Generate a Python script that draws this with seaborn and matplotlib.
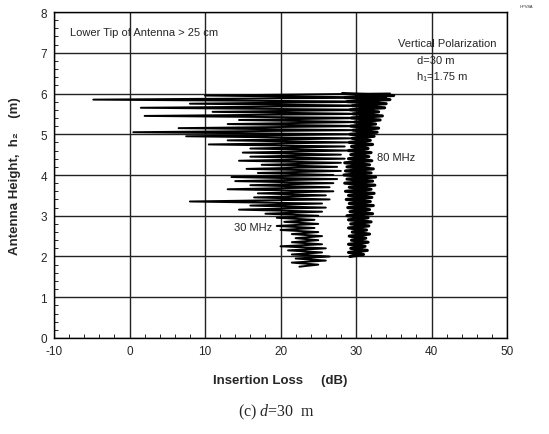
import matplotlib
matplotlib.use("Agg")
import matplotlib.pyplot as plt
import numpy as np
import pandas as pd
import seaborn as sns
from matplotlib.ticker import MultipleLocator

# heights (m) of the turning points of each trace
h_30 = [1.75, 1.80, 1.85, 1.90, 1.95, 2.00, 2.05, 2.10, 2.15, 2.20,
        2.25, 2.30, 2.35, 2.40, 2.45, 2.50, 2.55, 2.60, 2.65, 2.70,
        2.75, 2.80, 2.85, 2.90, 2.95, 3.00, 3.05, 3.10, 3.15, 3.20,
        3.25, 3.30, 3.35, 3.40, 3.45, 3.50, 3.55, 3.60, 3.65, 3.70,
        3.75, 3.80, 3.85, 3.90, 3.95, 4.00, 4.05, 4.10, 4.15, 4.20,
        4.25, 4.30, 4.35, 4.40, 4.45, 4.50, 4.55, 4.60, 4.65, 4.70,
        4.75, 4.80, 4.85, 4.90, 4.95, 5.00, 5.05, 5.10, 5.15, 5.20,
        5.25, 5.30, 5.35, 5.40, 5.45, 5.50, 5.55, 5.60, 5.65, 5.70,
        5.75, 5.80, 5.85, 5.90, 5.95, 6.00]
loss_30 = [22.5, 25.0, 21.5, 26.0, 22.0, 26.5, 21.5, 25.5, 21.0, 26.0,
           20.0, 25.5, 21.5, 25.0, 22.0, 25.5, 21.5, 25.0, 20.0, 24.5,
           19.5, 25.0, 20.5, 24.5, 19.5, 25.0, 18.0, 25.5, 14.5, 26.0,
           16.0, 25.5, 8.0, 26.5, 16.5, 26.0, 17.0, 27.0, 13.0, 26.5,
           16.0, 27.0, 14.0, 27.5, 13.5, 27.0, 17.0, 28.0, 15.5, 27.5,
           17.5, 28.0, 14.5, 28.5, 16.0, 28.0, 15.0, 29.0, 16.0, 28.5,
           10.5, 29.0, 13.0, 29.5, 7.5, 30.0, 0.5, 30.0, 6.5, 31.0,
           13.0, 30.5, 14.5, 31.5, 2.0, 31.0, 11.0, 32.0, 1.5, 32.5,
           8.0, 33.0, -4.8, 34.0, 10.0, 34.5]

h_80 = [2.00, 2.05, 2.10, 2.15, 2.20, 2.25, 2.30, 2.35, 2.40, 2.45,
        2.50, 2.55, 2.60, 2.65, 2.70, 2.75, 2.80, 2.85, 2.90, 2.95,
        3.00, 3.05, 3.10, 3.15, 3.20, 3.25, 3.30, 3.35, 3.40, 3.45,
        3.50, 3.55, 3.60, 3.65, 3.70, 3.75, 3.80, 3.85, 3.90, 3.95,
        4.00, 4.05, 4.10, 4.15, 4.20, 4.25, 4.30, 4.35, 4.40, 4.45,
        4.50, 4.55, 4.60, 4.65, 4.70, 4.75, 4.80, 4.85, 4.90, 4.95,
        5.00, 5.05, 5.10, 5.15, 5.20, 5.25, 5.30, 5.35, 5.40, 5.45,
        5.50, 5.55, 5.60, 5.65, 5.70, 5.75, 5.80, 5.85, 5.90, 5.95,
        6.00]
loss_80 = [29.2, 31.0, 29.0, 31.5, 29.3, 31.2, 29.0, 31.6, 29.4, 31.3,
           29.1, 31.8, 29.5, 31.4, 29.0, 31.7, 29.3, 32.0, 29.0, 31.6,
           28.8, 32.2, 29.2, 31.8, 28.9, 32.3, 29.1, 31.9, 28.7, 32.1,
           29.0, 32.4, 28.6, 32.0, 29.1, 32.5, 28.5, 32.2, 28.8, 32.6,
           28.4, 32.0, 28.6, 32.3, 28.8, 31.8, 28.5, 32.1, 29.0, 31.7,
           29.3, 32.0, 29.0, 31.6, 29.4, 32.2, 29.1, 31.9, 29.5, 32.4,
           29.2, 32.8, 29.6, 33.0, 29.3, 32.6, 29.8, 33.2, 29.4, 33.5,
           29.6, 33.0, 29.2, 33.8, 29.5, 34.0, 28.8, 34.5, 28.5, 35.0,
           28.2]

sns.set_style("white")
plt.rcParams['font.family'] = ['Liberation Sans', 'DejaVu Sans']
plt.rcParams['axes.unicode_minus'] = False
plt.rcParams['mathtext.fontset'] = 'custom'
plt.rcParams['mathtext.rm'] = 'Liberation Serif'
plt.rcParams['mathtext.it'] = 'Liberation Serif:italic'

fig = plt.figure(figsize=(5.49, 4.35), dpi=100)
ax = fig.add_axes([0.0984, 0.2207, 0.8251, 0.7494])

df30 = pd.DataFrame({"loss": loss_30, "h": h_30})
df80 = pd.DataFrame({"loss": loss_80, "h": h_80})
sns.lineplot(data=df30, x="loss", y="h", sort=False, estimator=None,
             color="black", lw=1.4, ax=ax)
sns.lineplot(data=df80, x="loss", y="h", sort=False, estimator=None,
             color="black", lw=2.2, ax=ax)

ax.set_xlim(-10, 50)
ax.set_ylim(0, 8)
ax.xaxis.set_major_locator(MultipleLocator(10))
ax.xaxis.set_minor_locator(MultipleLocator(2))
ax.yaxis.set_major_locator(MultipleLocator(1))
ax.yaxis.set_minor_locator(MultipleLocator(0.2))
ax.grid(True, which="major", color="#222222", lw=1.0)
ax.tick_params(which="both", direction="in", labelsize=8.5, color="black")
ax.tick_params(which="major", length=0, pad=5)
ax.tick_params(which="minor", length=3, bottom=True, left=True)
for s in ax.spines.values():
    s.set_color("black")
    s.set_linewidth(1.0)

ax.set_xlabel("Insertion Loss     (dB)", fontsize=9.5, fontweight="bold", labelpad=12)
ax.set_ylabel("Antenna Height,  h\u2082    (m)", fontsize=9.5, fontweight="bold", labelpad=14)

ax.text(-7.9, 7.5, "Lower Tip of Antenna > 25 cm", fontsize=8, va="center")
ax.text(35.6, 7.25, "Vertical Polarization", fontsize=8, va="center")
ax.text(38.1, 6.83, "d=30 m", fontsize=8, va="center")
ax.text(38.1, 6.42, "h\u2081=1.75 m", fontsize=8, va="center")
ax.text(13.8, 2.72, "30 MHz", fontsize=8, va="center")
ax.text(32.8, 4.44, "80 MHz", fontsize=8, va="center")

fig.text(0.958, 0.985, "HPV8A", fontsize=3, ha="center", va="center")
fig.text(0.503, 0.053, r"(c) $\mathit{d}$=30  m", fontsize=11.5, ha="center",
         va="center", family="Liberation Serif")

fig.savefig("out.png", dpi=100)
